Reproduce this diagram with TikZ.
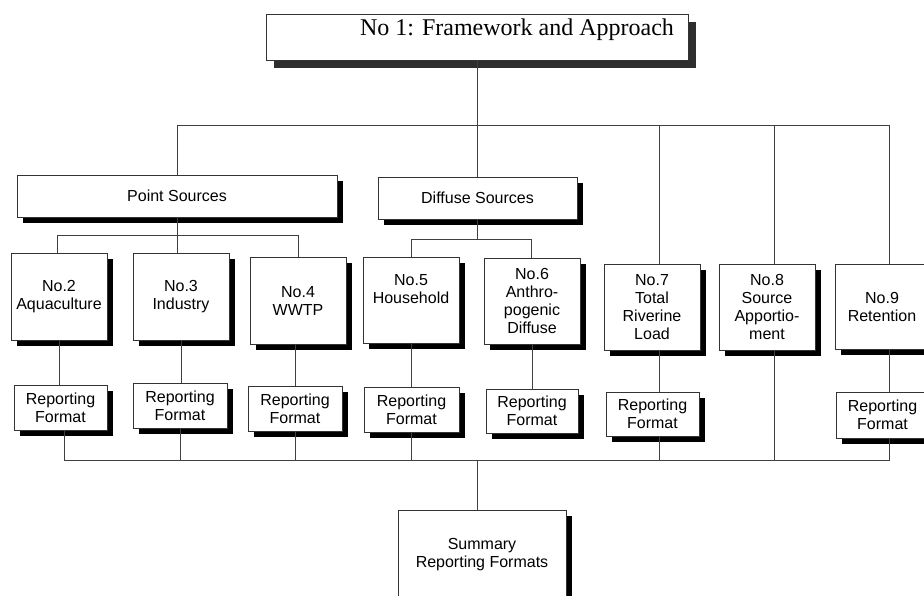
\documentclass[tikz,border=0pt]{standalone}
\usepackage{fontspec}
\setmainfont{Liberation Sans}
\newfontfamily\serifA{Liberation Serif}
\usetikzlibrary{shadows}
\tikzset{
  box/.style={draw=black!80, line width=0.8pt, fill=white, inner sep=0pt, align=center,
    font=\fontsize{16}{18}\selectfont,
    general shadow={fill=black, shadow xshift=6pt, shadow yshift=-6pt}},
  topbox/.style={draw=black!80, line width=0.8pt, fill=white, inner sep=0pt,
    font=\serifA\fontsize{24}{28}\selectfont,
    general shadow={fill=black!82, shadow xshift=8pt, shadow yshift=-8pt}},
  conn/.style={draw=black!75, line width=0.8pt},
}
\begin{document}
\begin{tikzpicture}[x=1pt,y=-1pt]
\useasboundingbox (0,0) rectangle (924,596);
\clip (0,0) rectangle (924,596);
\fill[white] (0,0) rectangle (924,596);

% top
\node[topbox, minimum width=422pt, minimum height=46pt] (top) at (477,37)
  {\hspace*{80pt}\raisebox{6.6pt}[16.4pt][5.2pt]{No 1: Framework and Approach}};

% second level
\node[box, minimum width=320pt, minimum height=42pt] (PS) at (177,196) {Point Sources};
\node[box, minimum width=199pt, minimum height=42pt] (DS) at (477.5,198) {Diffuse Sources};

% third level
\node[box, minimum width=96pt, minimum height=87pt] (N2) at (59,296.5) {No.2\\Aquaculture};
\node[box, minimum width=96pt, minimum height=87pt] (N3) at (181,296.5) {No.3\\Industry};
\node[box, minimum width=96pt, minimum height=87pt] (N4) at (298,300.5) {No.4\\WWTP};
\node[box, minimum width=96pt, minimum height=86pt] (N5) at (411,300) {No.5\\Household\\[4pt]\mbox{}};
\node[box, minimum width=96pt, minimum height=86pt] (N6) at (532,301) {No.6\\Anthro-\\pogenic\\Diffuse};
\node[box, minimum width=96pt, minimum height=86pt] (N7) at (652,307) {No.7\\Total\\Riverine\\Load};
\node[box, minimum width=96pt, minimum height=86pt] (N8) at (767,307) {No.8\\Source\\Apportio-\\ment};
\node[box, minimum width=94pt, minimum height=85pt] (N9) at (882,306.5) {No.9\\Retention};

% reporting formats
\node[box, minimum width=93pt, minimum height=45pt] (R2) at (60.5,407.5) {Reporting\\Format};
\node[box, minimum width=94pt, minimum height=45pt] (R3) at (180,405.5) {Reporting\\Format};
\node[box, minimum width=94pt, minimum height=45pt] (R4) at (295,408.5) {Reporting\\Format};
\node[box, minimum width=95pt, minimum height=45pt] (R5) at (411.5,409.5) {Reporting\\Format};
\node[box, minimum width=92pt, minimum height=44pt] (R6) at (532,411) {Reporting\\Format};
\node[box, minimum width=93pt, minimum height=44pt] (R7) at (652.5,414) {Reporting\\Format};
\node[box, minimum width=93pt, minimum height=46pt] (R9) at (882.5,415) {Reporting\\Format};

% summary
\node[box, minimum width=168pt, minimum height=90pt] (SUM) at (482,555) {Summary\\Reporting Formats};

% connectors: top bus
\coordinate (bL) at (177,125);
\coordinate (b7) at (659,125);
\coordinate (b8) at (774,125);
\coordinate (b9) at (889,125);
\draw[conn] (top.south) -- (top.south |- DS.north);
\draw[conn] (PS.north) -- (bL) -- (b9) -- (b9 |- N9.north);
\draw[conn] (b7) -- (b7 |- N7.north);
\draw[conn] (b8) -- (b8 |- N8.north);

% point sources bus
\coordinate (p2) at (57,235);
\coordinate (p4) at (298,235);
\draw[conn] (PS.south) -- (PS.south |- N3.north);
\draw[conn] (p2 |- N2.north) -- (p2) -- (p4) -- (p4 |- N4.north);

% diffuse sources bus
\coordinate (d5) at (411,239);
\coordinate (d6) at (531,239);
\draw[conn] (DS.south) -- (DS.south |- d5);
\draw[conn] (d5 |- N5.north) -- (d5) -- (d6) -- (d6 |- N6.north);

% to reporting formats
\draw[conn] (N2.south) -- (N2.south |- R2.north);
\draw[conn] (N3.south) -- (N3.south |- R3.north);
\draw[conn] (R4.north |- N4.south) -- (R4.north);
\draw[conn] (N5.south) -- (N5.south |- R5.north);
\draw[conn] (N6.south) -- (N6.south |- R6.north);
\draw[conn] (N7.south -| b7) -- (R7.north -| b7);
\draw[conn] (N9.south -| b9) -- (R9.north -| b9);

% bottom bus
\coordinate (q2) at (64,460);
\coordinate (q9) at (889,460);
\coordinate (qs) at (477,460);
\draw[conn] (R2.south -| q2) -- (q2) -- (q9) -- (R9.south -| q9);
\draw[conn] (R3.south) -- (R3.south |- q2);
\draw[conn] (R4.south) -- (R4.south |- q2);
\draw[conn] (R5.south) -- (R5.south |- q2);
\draw[conn] (R7.south -| b7) -- (b7 |- q2);
\draw[conn] (N8.south -| b8) -- (b8 |- q2);
\draw[conn] (qs) -- (qs |- SUM.north);
\end{tikzpicture}
\end{document}
